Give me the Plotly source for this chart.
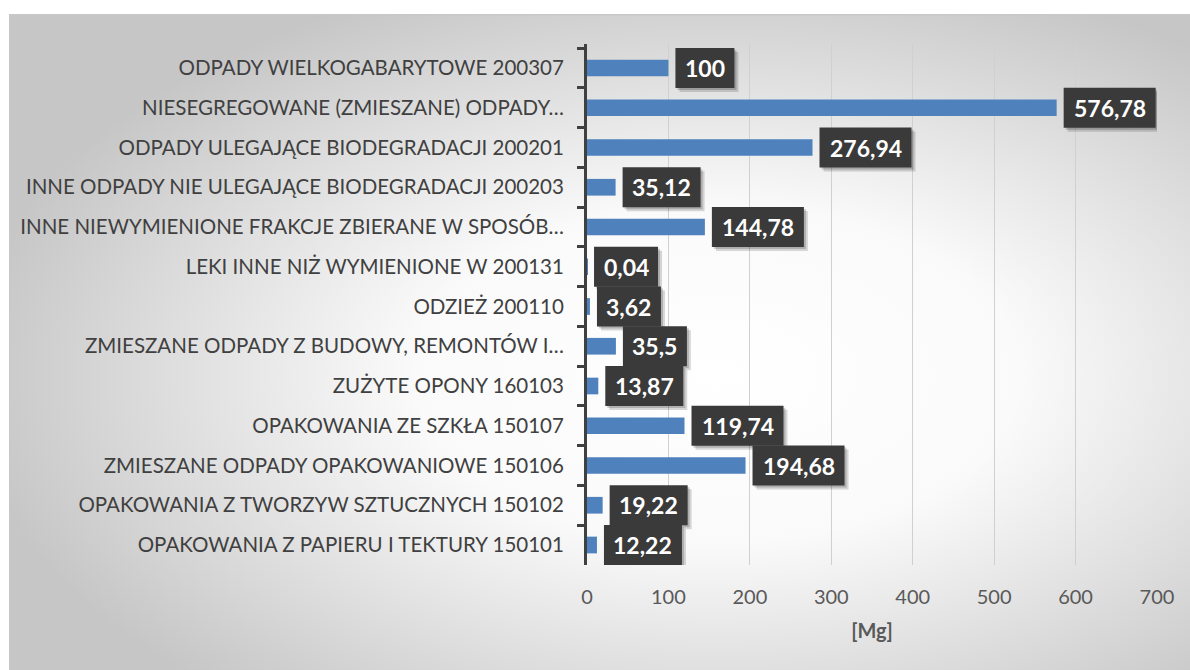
import urllib.parse
import plotly.graph_objects as go

categories = [
    "ODPADY WIELKOGABARYTOWE 200307",
    "NIESEGREGOWANE (ZMIESZANE) ODPADY…",
    "ODPADY ULEGAJĄCE BIODEGRADACJI 200201",
    "INNE ODPADY NIE ULEGAJĄCE BIODEGRADACJI 200203",
    "INNE NIEWYMIENIONE FRAKCJE ZBIERANE W SPOSÓB…",
    "LEKI INNE NIŻ WYMIENIONE W 200131",
    "ODZIEŻ 200110",
    "ZMIESZANE ODPADY Z BUDOWY, REMONTÓW I…",
    "ZUŻYTE OPONY 160103",
    "OPAKOWANIA ZE SZKŁA 150107",
    "ZMIESZANE ODPADY OPAKOWANIOWE 150106",
    "OPAKOWANIA Z TWORZYW SZTUCZNYCH 150102",
    "OPAKOWANIA Z PAPIERU I TEKTURY 150101",
]
values = [100, 576.78, 276.94, 35.12, 144.78, 0.04, 3.62, 35.5, 13.87, 119.74, 194.68, 19.22, 12.22]
x_ticks = [0, 100, 200, 300, 400, 500, 600, 700]
x_title = "[Mg]"

W, H = 1190, 670
L, R, T, B = 587, 33, 44, 105
pw, ph = W - L - R, H - T - B

svg = (
    "<svg xmlns='http://www.w3.org/2000/svg' width='1181' height='656' viewBox='0 0 1181 656' preserveAspectRatio='none'>"
    "<defs><radialGradient id='g' cx='0.6' cy='0.55' r='0.64' fx='0.6' fy='0.55'>"
    "<stop offset='0' stop-color='#ffffff'/><stop offset='0.4' stop-color='#fafafa'/>"
    "<stop offset='1' stop-color='#c6c6c6'/></radialGradient></defs>"
    "<rect x='0' y='0' width='1181' height='656' fill='url(#g)'/>"
    "<line x1='0' y1='0.5' x2='1181' y2='0.5' stroke='#c8c8c8' stroke-width='2'/>"
    "<line x1='0.5' y1='0' x2='0.5' y2='656' stroke='#c8c8c8' stroke-width='1'/>"
    "</svg>"
)
src = "data:image/svg+xml;charset=utf-8," + urllib.parse.quote(svg)

fig = go.Figure()
fig.add_trace(go.Bar(
    y=categories, x=values, orientation="h",
    marker=dict(color="#4f81bd", line=dict(width=0)),
    width=0.42, hoverinfo="x+y",
))


def fmt(v):
    return f"{v:g}".replace(".", ",")


GAP = 7
shapes = []
annots = []
for c, v in zip(categories, values):
    t = fmt(v)
    nd = sum(ch.isdigit() for ch in t)
    nc = t.count(",")
    bw = 14 * nd + 5 * nc + 17
    shapes.append(dict(
        type="rect", xref="x", yref="y", xsizemode="pixel", ysizemode="pixel",
        xanchor=v, yanchor=c, x0=GAP + 4, x1=GAP + bw + 4, y0=-24, y1=16,
        fillcolor="rgba(0,0,0,0.15)", line=dict(width=0), layer="above",
    ))
    shapes.append(dict(
        type="rect", xref="x", yref="y", xsizemode="pixel", ysizemode="pixel",
        xanchor=v, yanchor=c, x0=GAP + 2, x1=GAP + bw + 2, y0=-22, y1=18,
        fillcolor="rgba(0,0,0,0.18)", line=dict(width=0), layer="above",
    ))
    shapes.append(dict(
        type="rect", xref="x", yref="y", xsizemode="pixel", ysizemode="pixel",
        xanchor=v, yanchor=c, x0=GAP, x1=GAP + bw, y0=-20, y1=20,
        fillcolor="#3a3a3a", line=dict(width=0), layer="above",
    ))
    annots.append(dict(
        x=v, y=c, xref="x", yref="y", text="<b>" + t + "</b>", showarrow=False,
        xanchor="center", yanchor="middle", xshift=GAP + bw / 2, yshift=0,
        font=dict(family="Lato", size=23, color="#ffffff"),
    ))

fig.update_layout(
    width=W, height=H,
    margin=dict(l=L, r=R, t=T, b=B, pad=0),
    paper_bgcolor="#ffffff",
    plot_bgcolor="rgba(0,0,0,0)",
    showlegend=False,
    images=[dict(
        source=src, xref="paper", yref="paper",
        x=(9 - L) / pw, y=(H - B - 14) / ph,
        sizex=(W - 9) / pw, sizey=(H - 14) / ph,
        xanchor="left", yanchor="top", sizing="stretch", layer="below",
    )],
    shapes=shapes,
    annotations=annots,
    xaxis=dict(
        range=[0, 700], tickvals=x_ticks, showgrid=True, gridcolor="#d0d0d0", gridwidth=1,
        zeroline=False, showline=False, ticks="outside", ticklen=14, tickcolor="rgba(0,0,0,0)",
        tickfont=dict(family="Lato", size=20, color="#595959"),
        title=dict(text="<b>" + x_title + "</b>", font=dict(family="Lato", size=20, color="#595959"), standoff=16),
    ),
    yaxis=dict(
        autorange="reversed", type="category", showgrid=False, zeroline=False,
        showline=True, linecolor="#404040", linewidth=3,
        ticks="outside", tickson="boundaries", ticklen=7, tickwidth=3, tickcolor="#404040",
        ticklabelstandoff=16,
        tickfont=dict(family="Lato", size=20.5, color="#404040"),
    ),
)

fig.write_html(
    "out.html",
    config={"displayModeBar": False},
    post_script="document.body.style.margin='0';document.body.style.overflow='hidden';",
)
